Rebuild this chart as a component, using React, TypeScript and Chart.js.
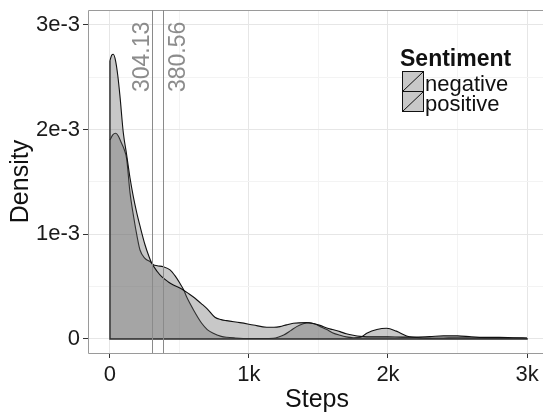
import { useEffect, useRef } from 'react';
import { Chart, registerables } from 'chart.js';

Chart.register(...registerables);

// Density curves (density values in units of 1e-3)
const negativeSteps = [0, 12, 24, 40, 56, 72, 96, 120, 144, 168, 192, 216, 252, 280, 300, 340, 372, 420, 456, 516, 570, 612, 655, 696, 755, 800, 840, 935, 1031, 1127, 1180, 1223, 1270, 1319, 1415, 1460, 1511, 1560, 1600, 1655, 1700, 1750, 1800, 1900, 2000, 2100, 2200, 2300, 2400, 2500, 2600, 2700, 2800, 2900, 3000];
const negativeDensity = [2.66, 2.71, 2.72, 2.66, 2.52, 2.32, 1.97, 1.76, 1.54, 1.36, 1.21, 1.08, 0.9, 0.79, 0.725, 0.645, 0.595, 0.545, 0.516, 0.478, 0.43, 0.389, 0.34, 0.293, 0.207, 0.185, 0.175, 0.156, 0.134, 0.112, 0.112, 0.118, 0.135, 0.15, 0.156, 0.148, 0.13, 0.105, 0.09, 0.07, 0.05, 0.035, 0.025, 0.02, 0.02, 0.018, 0.018, 0.022, 0.03, 0.03, 0.02, 0.015, 0.015, 0.012, 0.01];

const positiveSteps = [0, 20, 41, 60, 80, 100, 120, 144, 170, 195, 216, 252, 288, 312, 340, 384, 432, 470, 504, 530, 552, 600, 660, 700, 743, 800, 840, 900, 1000, 1100, 1175, 1250, 1300, 1343, 1390, 1430, 1470, 1511, 1560, 1600, 1655, 1700, 1750, 1800, 1847, 1920, 1990, 2060, 2134, 2180, 2250, 2300, 2400, 2500, 2600, 2700, 2800, 2900, 3000];
const positiveDensity = [1.9, 1.95, 1.965, 1.94, 1.88, 1.82, 1.72, 1.4, 1.17, 0.98, 0.85, 0.77, 0.74, 0.71, 0.7, 0.69, 0.66, 0.6, 0.53, 0.47, 0.4, 0.28, 0.15, 0.09, 0.054, 0.025, 0.016, 0.01, 0.005, 0.005, 0.007, 0.038, 0.08, 0.118, 0.145, 0.155, 0.145, 0.12, 0.09, 0.06, 0.035, 0.02, 0.012, 0.015, 0.054, 0.09, 0.102, 0.075, 0.029, 0.016, 0.01, 0.008, 0.01, 0.012, 0.01, 0.008, 0.008, 0.008, 0.006];

const sentimentLabels = ['negative', 'positive'];
const legendTitle = 'Sentiment';
const meanSteps = [304.13, 380.56];
const meanLabels = ['304.13', '380.56'];

const xMajorTicks = [0, 1000, 2000, 3000];
const xTickLabels = ['0', '1k', '2k', '3k'];
const xMinorTicks = [500, 1500, 2500];
const yMajorTicks = [0, 0.001, 0.002, 0.003];
const yTickLabels = ['0', '1e-3', '2e-3', '3e-3'];
const yMinorTicks = [0.0005, 0.0015, 0.0025];

const xTitle = 'Steps';
const yTitle = 'Density';

const FONT = "'Liberation Sans', Arial, Helvetica, sans-serif";
const FILL = 'rgba(104,104,104,0.364)';

export default function App() {
  const canvasRef = useRef<HTMLCanvasElement | null>(null);

  useEffect(() => {
    const canvas = canvasRef.current;
    if (!canvas) return;

    const toPoints = (xs: number[], ys: number[]) => xs.map((x, i) => ({ x, y: ys[i] * 1e-3 }));
    const negPts = toPoints(negativeSteps, negativeDensity);
    const posPts = toPoints(positiveSteps, positiveDensity);
    const lastX = negativeSteps[negativeSteps.length - 1];
    const outline = [
      { x: negativeSteps[0], y: negPts[0].y },
      { x: negativeSteps[0], y: 0 },
      { x: lastX, y: 0 },
      { x: lastX, y: negPts[negPts.length - 1].y },
    ];

    const decor = {
      id: 'decor',
      afterDatasetsDraw(chart: any) {
        const { ctx, chartArea } = chart;
        const xs = chart.scales.x;
        const { left, top, right, bottom } = chartArea;
        ctx.save();
        // panel border (left, top, bottom)
        ctx.strokeStyle = '#9a9a9a';
        ctx.lineWidth = 1;
        ctx.beginPath();
        ctx.moveTo(right + 2, top + 0.5);
        ctx.lineTo(left + 0.5, top + 0.5);
        ctx.lineTo(left + 0.5, bottom + 0.5);
        ctx.lineTo(right + 2, bottom + 0.5);
        ctx.stroke();

        // mean lines
        ctx.strokeStyle = '#8a8a8a';
        meanSteps.forEach((m) => {
          const px = Math.round(xs.getPixelForValue(m)) + 0.5;
          ctx.beginPath();
          ctx.moveTo(px, top);
          ctx.lineTo(px, bottom);
          ctx.stroke();
        });
        // mean labels
        ctx.fillStyle = '#8c8c8c';
        ctx.font = `23px ${FONT}`;
        ctx.textAlign = 'left';
        ctx.textBaseline = 'alphabetic';
        const offsets = [-3.5, 22.5];
        meanSteps.forEach((m, i) => {
          const px = xs.getPixelForValue(m);
          ctx.save();
          ctx.translate(px + offsets[i], 92);
          ctx.rotate(-Math.PI / 2);
          ctx.fillText(meanLabels[i], 0, 0);
          ctx.restore();
        });

        // axis titles
        ctx.fillStyle = '#111';
        ctx.font = `25px ${FONT}`;
        ctx.textAlign = 'center';
        ctx.fillText(xTitle, 317, 407);
        ctx.save();
        ctx.translate(28, (top + bottom) / 2);
        ctx.rotate(-Math.PI / 2);
        ctx.fillText(yTitle, 0, 0);
        ctx.restore();

        // legend
        ctx.textAlign = 'left';
        ctx.font = `bold 23px ${FONT}`;
        ctx.fillStyle = '#111';
        ctx.fillText(legendTitle, 400, 66);
        ctx.font = `22px ${FONT}`;
        sentimentLabels.forEach((lab, i) => {
          const ky = 71 + i * 20;
          ctx.fillStyle = '#ffffff';
          ctx.fillRect(402, ky, 21, 20);
          ctx.fillStyle = FILL;
          ctx.fillRect(402, ky, 21, 20);
          ctx.strokeStyle = '#111';
          ctx.lineWidth = 1;
          ctx.strokeRect(402.5, ky + 0.5, 21, 20);
          ctx.beginPath();
          ctx.moveTo(403, ky + 20);
          ctx.lineTo(423, ky + 1);
          ctx.stroke();
          ctx.fillStyle = '#111';
          ctx.fillText(lab, 425, ky + 20);
        });
        ctx.restore();
      },
    };

    const isMajorX = (v: number) => xMajorTicks.indexOf(v) >= 0;
    const isMajorY = (v: number) => yMajorTicks.some((t) => Math.abs(t - v) < 1e-9);

    const chart = new Chart(canvas, {
      type: 'line',
      data: {
        datasets: [
          {
            label: 'outline',
            data: outline,
            borderColor: '#2a2a2a',
            borderWidth: 1.4,
            pointRadius: 0,
            fill: false,
            tension: 0,
          },
          {
            label: sentimentLabels[0],
            data: negPts,
            borderColor: '#111',
            borderWidth: 1.1,
            backgroundColor: FILL,
            fill: 'origin',
            pointRadius: 0,
            cubicInterpolationMode: 'monotone',
          },
          {
            label: sentimentLabels[1],
            data: posPts,
            borderColor: '#111',
            borderWidth: 1.1,
            backgroundColor: FILL,
            fill: 'origin',
            pointRadius: 0,
            cubicInterpolationMode: 'monotone',
          },
        ],
      },
      options: {
        responsive: false,
        animation: false,
        layout: { padding: { top: 10, right: 0, left: 0, bottom: 0 } },
        plugins: { legend: { display: false }, tooltip: { enabled: false } },
        scales: {
          x: {
            type: 'linear',
            min: -158,
            max: 3115,
            afterBuildTicks: (s: any) => {
              s.ticks = [...xMajorTicks, ...xMinorTicks].sort((a, b) => a - b).map((v) => ({ value: v }));
            },
            afterFit: (s: any) => {
              s.height = 59;
              s.paddingLeft = 0;
              s.paddingRight = 0;
            },
            ticks: {
              autoSkip: false,
              maxRotation: 0,
              padding: 4,
              color: '#1a1a1a',
              font: { family: FONT, size: 22 },
              callback: (v: any) => {
                const i = xMajorTicks.indexOf(Number(v));
                return i >= 0 ? xTickLabels[i] : '';
              },
            },
            grid: {
              color: (c: any) => (isMajorX(c.tick?.value) ? '#e6e6e6' : '#f3f3f3'),
              tickColor: (c: any) => (isMajorX(c.tick?.value) ? '#333' : 'rgba(0,0,0,0)'),
              tickLength: 5,
              drawTicks: true,
            },
            border: { display: false },
          },
          y: {
            type: 'linear',
            min: -0.000134,
            max: 0.003143,
            afterBuildTicks: (s: any) => {
              s.ticks = [...yMajorTicks, ...yMinorTicks].sort((a, b) => a - b).map((v) => ({ value: v }));
            },
            afterFit: (s: any) => {
              s.width = 88;
              s.paddingTop = 0;
              s.paddingBottom = 0;
            },
            ticks: {
              autoSkip: false,
              padding: 3,
              color: '#1a1a1a',
              font: { family: FONT, size: 22 },
              callback: (v: any) => {
                const i = yMajorTicks.findIndex((t) => Math.abs(t - Number(v)) < 1e-9);
                return i >= 0 ? yTickLabels[i] : '';
              },
            },
            grid: {
              color: (c: any) => (isMajorY(c.tick?.value) ? '#e6e6e6' : '#f3f3f3'),
              tickColor: (c: any) => (isMajorY(c.tick?.value) ? '#333' : 'rgba(0,0,0,0)'),
              tickLength: 5,
              drawTicks: true,
            },
            border: { display: false },
          },
        },
      },
      plugins: [decor],
    } as any);

    return () => chart.destroy();
  }, []);

  return (
    <div style={{ position: 'fixed', left: 0, top: 0, width: 543, height: 412, background: '#fff' }}>
      <canvas ref={canvasRef} width={543} height={412} />
    </div>
  );
}
